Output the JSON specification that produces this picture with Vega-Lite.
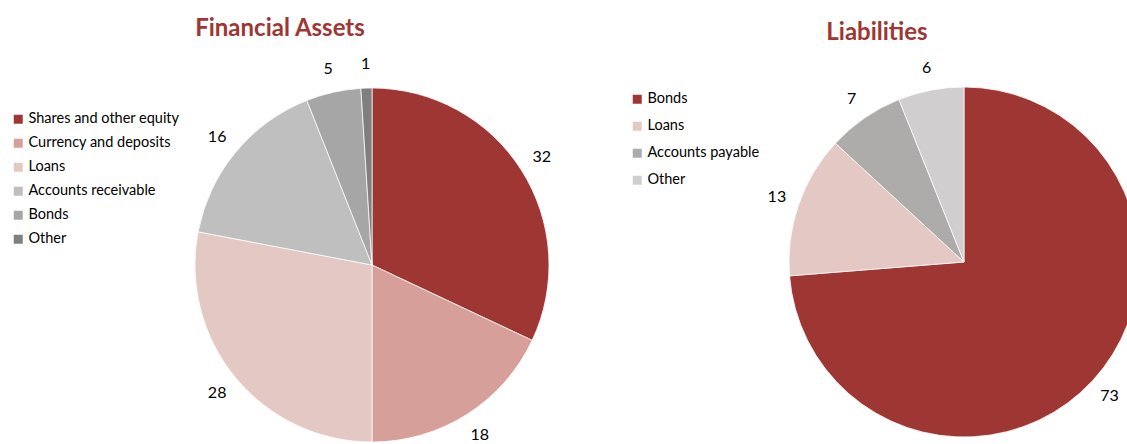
{
  "$schema": "https://vega.github.io/schema/vega-lite/v6.json",
  "background": "white",
  "padding": {"left": 0, "top": 17, "right": 0, "bottom": 0},
  "bounds": "flush",
  "spacing": 45,
  "config": {"view": {"stroke": null}, "font": "Lato"},
  "datasets": {
    "assets": [
      {"category": "Shares and other equity", "value": 32, "idx": 1},
      {"category": "Currency and deposits", "value": 18, "idx": 2},
      {"category": "Loans", "value": 28, "idx": 3},
      {"category": "Accounts receivable", "value": 16, "idx": 4},
      {"category": "Bonds", "value": 5, "idx": 5},
      {"category": "Other", "value": 1, "idx": 6}
    ],
    "liabilities": [
      {"category": "Bonds", "value": 73, "idx": 1},
      {"category": "Loans", "value": 13, "idx": 2},
      {"category": "Accounts payable", "value": 7, "idx": 3},
      {"category": "Other", "value": 6, "idx": 4}
    ]
  },
  "resolve": {"scale": {"color": "independent"}, "legend": {"color": "independent"}},
  "hconcat": [
    {
      "width": 744,
      "height": 356,
      "data": {"name": "assets"},
      "title": {"text": "Financial Assets", "fontSize": 24, "font": "Lato", "fontWeight": "bold", "color": "#9E3634", "anchor": "middle", "dx": -92, "offset": 15},
      "encoding": {
        "theta": {"field": "value", "type": "quantitative", "stack": true},
        "order": {"field": "idx", "type": "quantitative"}
      },
      "layer": [
        {
          "mark": {"type": "arc", "radius": 177, "stroke": "white", "strokeWidth": 0.75},
          "encoding": {
            "color": {
              "field": "category", "type": "nominal",
              "scale": {
                "domain": ["Shares and other equity", "Currency and deposits", "Loans", "Accounts receivable", "Bonds", "Other"],
                "range": ["#9E3634", "#D69F9A", "#E3C8C4", "#BFBFBF", "#A6A6A6", "#7F7F7F"]
              },
              "legend": {"title": null, "orient": "none", "legendX": 11, "legendY": 25, "symbolType": "square", "symbolSize": 81, "symbolStrokeWidth": 0, "labelFontSize": 14.5, "labelFont": "Lato", "labelColor": "#000000", "rowPadding": 9, "labelOffset": 3}
            }
          }
        },
        {
          "mark": {"type": "text", "radius": 201, "fontSize": 16, "color": "#000000"},
          "encoding": {"text": {"field": "value", "type": "quantitative"}, "detail": {"field": "category"}}
        }
      ]
    },
    {
      "width": 350,
      "height": 350,
      "data": {"name": "liabilities"},
      "title": {"text": "Liabilities", "fontSize": 24, "font": "Lato", "fontWeight": "bold", "color": "#9E3634", "anchor": "middle", "dx": -87, "offset": 15},
      "encoding": {
        "theta": {"field": "value", "type": "quantitative", "stack": true},
        "order": {"field": "idx", "type": "quantitative"}
      },
      "layer": [
        {
          "mark": {"type": "arc", "radius": 175, "stroke": "white", "strokeWidth": 0.75},
          "encoding": {
            "color": {
              "field": "category", "type": "nominal",
              "scale": {
                "domain": ["Bonds", "Loans", "Accounts payable", "Other"],
                "range": ["#9E3634", "#E3C8C4", "#AEABAB", "#D0CECE"]
              },
              "legend": {"title": null, "orient": "none", "legendX": -159, "legendY": 5, "symbolType": "square", "symbolSize": 81, "symbolStrokeWidth": 0, "labelFontSize": 14.5, "labelFont": "Lato", "labelColor": "#000000", "rowPadding": 12, "labelOffset": 3}
            }
          }
        },
        {
          "mark": {"type": "text", "radius": 198, "fontSize": 16, "color": "#000000"},
          "encoding": {"text": {"field": "value", "type": "quantitative"}, "detail": {"field": "category"}}
        }
      ]
    }
  ]
}
